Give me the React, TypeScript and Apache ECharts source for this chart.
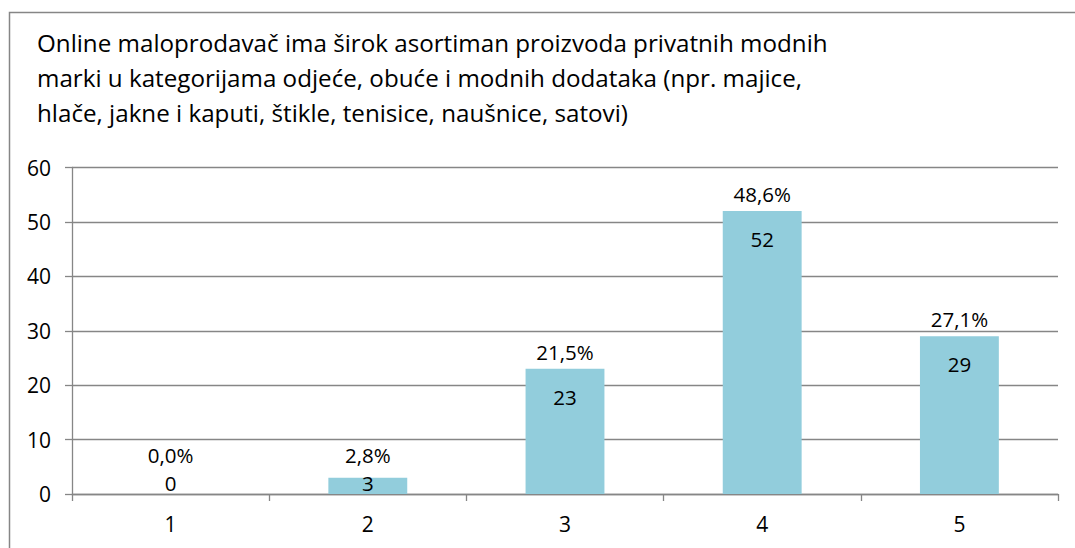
import React, { useEffect, useRef } from "react";
import * as echarts from "echarts";

const categories = ["1", "2", "3", "4", "5"];
const counts = [0, 3, 23, 52, 29];
const percentLabels = ["0,0%", "2,8%", "21,5%", "48,6%", "27,1%"];
const yTicks = { min: 0, max: 60, interval: 10 };
const titleLines = [
  "Online maloprodavač ima širok asortiman proizvoda privatnih modnih",
  "marki u kategorijama odjeće, obuće i modnih dodataka (npr. majice,",
  "hlače, jakne i kaputi, štikle, tenisice, naušnice, satovi)",
];

const FONT = "'Open Sans', 'Noto Sans', sans-serif";
const GRAY = "#868686";

export default function App() {
  const ref = useRef<HTMLDivElement>(null);
  useEffect(() => {
    document.body.style.margin = "0";
    if (!ref.current) return;
    const chart = echarts.init(ref.current, null, { renderer: "svg" });
    chart.setOption({
      animation: false,
      backgroundColor: "#ffffff",
      graphic: [
        {
          type: "rect",
          shape: { x: 9.5, y: 12.5, width: 1200, height: 700 },
          style: { fill: "none", stroke: GRAY, lineWidth: 1.5 },
          silent: true,
        },
        {
          type: "text",
          left: 37,
          top: 25,
          style: {
            text: titleLines.join("\n"),
            fontFamily: FONT,
            fontSize: 24.2,
            lineHeight: 35,
            fill: "#000",
          },
        },
      ],
      grid: { left: 72, right: 17, top: 167.5, bottom: 54 },
      xAxis: {
        type: "category",
        data: categories,
        axisLine: { lineStyle: { color: GRAY, width: 1.3 } },
        axisTick: { show: true, length: 7, alignWithLabel: false, lineStyle: { color: GRAY, width: 1.3 } },
        axisLabel: { color: "#000", fontFamily: FONT, fontSize: 21, margin: 19 },
      },
      yAxis: {
        type: "value",
        min: yTicks.min,
        max: yTicks.max,
        interval: yTicks.interval,
        axisLine: { show: true, lineStyle: { color: GRAY, width: 1.3 } },
        axisTick: { show: true, length: 7, lineStyle: { color: GRAY, width: 1.3 } },
        splitLine: { lineStyle: { color: GRAY, width: 1.3 } },
        axisLabel: { color: "#000", fontFamily: FONT, fontSize: 21, margin: 21 },
      },
      series: [
        {
          type: "bar",
          data: counts,
          barWidth: "40%",
          itemStyle: { color: "#92CDDC" },
          z: 2,
        },
        {
          type: "custom",
          data: counts.map((c, i) => [i, c]),
          z: 5,
          renderItem: (params: any, api: any) => {
            const idx = api.value(0);
            const val = api.value(1);
            const top = api.coord([idx, val]);
            const zero = api.coord([idx, 0]);
            const countY = Math.min(top[1] + 28, zero[1] - 11);
            const pctY = Math.min(top[1] - 17, countY - 28);
            return {
              type: "group",
              children: [
                {
                  type: "text",
                  style: {
                    text: String(counts[idx]),
                    x: top[0],
                    y: countY,
                    align: "center",
                    verticalAlign: "middle",
                    fontFamily: FONT,
                    fontSize: 20.5,
                    fill: "#000",
                  },
                },
                {
                  type: "text",
                  style: {
                    text: percentLabels[idx],
                    x: top[0],
                    y: pctY,
                    align: "center",
                    verticalAlign: "middle",
                    fontFamily: FONT,
                    fontSize: 20.5,
                    fill: "#000",
                  },
                },
              ],
            };
          },
        },
      ],
    });
    return () => chart.dispose();
  }, []);
  return <div ref={ref} style={{ width: 1075, height: 548 }} />;
}
